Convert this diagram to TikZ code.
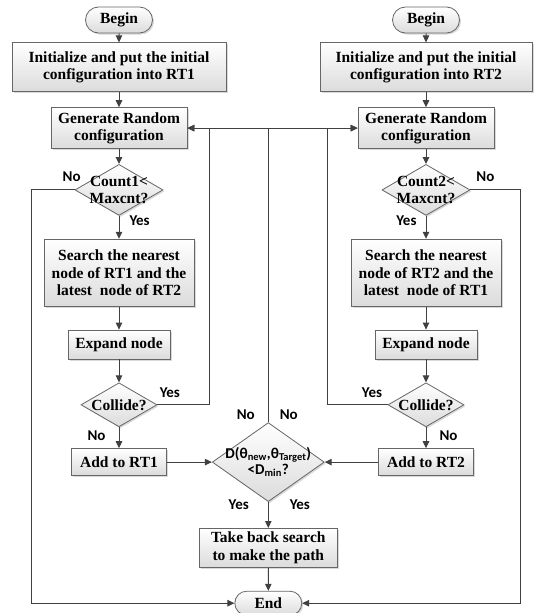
\documentclass[tikz,border=0pt]{standalone}
\usepackage{fontspec}
\setmainfont{Liberation Serif}
\newfontfamily\lblfont{Carlito}
\usetikzlibrary{positioning,shapes.geometric,shapes.misc,arrows.meta,shadows}

\tikzset{
  base/.style={draw=black!60, line width=0.8pt, top color=white, bottom color=black!14,
    drop shadow={opacity=0.3, shadow xshift=1.5pt, shadow yshift=-1.5pt}},
  process/.style={base, rectangle, inner xsep=4pt, inner ysep=2pt, align=center,
    font=\fontsize{15.5}{17.5}\selectfont\bfseries},
  decision/.style={base, diamond, inner sep=0pt},
  terminal/.style={base, rounded rectangle, minimum width=67pt, minimum height=26pt,
    inner sep=0pt, font=\fontsize{15.5}{17.5}\selectfont\bfseries},
  dtext/.style={font=\fontsize{15.5}{17.5}\selectfont\bfseries, align=center, inner sep=0pt},
  mtext/.style={font=\lblfont\fontsize{15}{16}\selectfont\bfseries, align=center, inner sep=0pt},
  lbl/.style={font=\lblfont\fontsize{15}{17}\selectfont\bfseries, inner sep=1pt},
  line/.style={draw=black!75, line width=1pt},
  arr/.style={line, -{Triangle[length=7pt,width=6.5pt]}},
}

\begin{document}
\begin{tikzpicture}[x=1pt, y=-1pt]
  \useasboundingbox (0,0) rectangle (534,613);

  % left tree
  \node[terminal]                                   (b1) at (119,20) {Begin};
  \node[process, below=9pt of b1, minimum width=214pt, minimum height=49pt] (i1)
        {Initialize and put the initial\\configuration into RT1};
  \node[process, below=15pt of i1, minimum width=136pt, minimum height=41pt] (g1)
        {Generate Random\\configuration};
  \node[decision, below=15pt of g1, minimum width=88pt, minimum height=51pt,
        label={[dtext]center:Count1<\\Maxcnt?}]    (c1) {};
  \node[process, below=23pt of c1, minimum width=150pt, minimum height=67pt] (s1)
        {Search the nearest\\node of RT1 and the\\latest\ \ node of RT2};
  \node[process, below=23pt of s1, minimum width=102pt, minimum height=29pt] (e1) {Expand node};
  \node[decision, below=23pt of e1, minimum width=76pt, minimum height=44pt,
        label={[dtext]center:Collide?}]             (k1) {};
  \node[process, below=21pt of k1, minimum width=95pt, minimum height=27pt] (a1) {Add to RT1};

  % right tree
  \node[terminal]                                   (b2) at (426,20) {Begin};
  \node[process, below=9pt of b2, minimum width=212pt, minimum height=49pt] (i2)
        {Initialize and put the initial\\configuration into RT2};
  \node[process, below=15pt of i2, minimum width=136pt, minimum height=41pt] (g2)
        {Generate Random\\configuration};
  \node[decision, below=15pt of g2, minimum width=88pt, minimum height=51pt,
        label={[dtext]center:Count2<\\Maxcnt?}]    (c2) {};
  \node[process, below=23pt of c2, minimum width=150pt, minimum height=67pt] (s2)
        {Search the nearest\\node of RT2 and the\\latest\ \ node of RT1};
  \node[process, below=23pt of s2, minimum width=102pt, minimum height=29pt] (e2) {Expand node};
  \node[decision, below=23pt of e2, minimum width=76pt, minimum height=44pt,
        label={[dtext]center:Collide?}]             (k2) {};
  \node[process, below=21pt of k2, minimum width=95pt, minimum height=27pt] (a2) {Add to RT2};

  % meeting point
  \node[decision, right=45pt of a1, minimum width=112pt, minimum height=79pt,
        label={[mtext]center:D(θ\textsubscript{new},θ\textsubscript{Target})\\<D\textsubscript{min}?}] (d) {};
  \node[process, below=26pt of d, minimum width=138pt, minimum height=39pt] (t)
        {Take back search\\to make the path};
  \node[terminal, below=23pt of t, minimum height=24pt] (end) {End};
  \coordinate (top) at (d.north |- g1.east);

  % left edges
  \draw[arr] (b1) -- (i1);
  \draw[arr] (i1) -- (g1);
  \draw[arr] (g1) -- (c1);
  \draw[arr] (c1) -- node[lbl, right=9pt, pos=0.2] (y1) {Yes} (s1);
  \draw[arr] (s1) -- (e1);
  \draw[arr] (e1) -- (k1);
  \draw[arr] (k1) -- node[lbl, left=12pt, pos=0.4] (n3) {No} (a1);
  \draw[arr] (a1) -- (d);
  \draw[arr] (k1.east) -| node[lbl, above=6pt, pos=0.12] (y3) {Yes} ([xshift=22pt]g1.east) -- (g1.east);
  \draw[arr] (c1.west) -- node[lbl, above=7pt, pos=0.07] (n1) {No} ++(-43,0) |- (end.west);

  % right edges
  \draw[arr] (b2) -- (i2);
  \draw[arr] (i2) -- (g2);
  \draw[arr] (g2) -- (c2);
  \draw[arr] (c2) -- node[lbl, left=8pt, pos=0.2] (y2) {Yes} (s2);
  \draw[arr] (s2) -- (e2);
  \draw[arr] (e2) -- (k2);
  \draw[arr] (k2) -- node[lbl, right=12pt, pos=0.4] (n4) {No} (a2);
  \draw[arr] (a2) -- (d);
  \draw[arr] (k2.west) -| node[lbl, above=6pt, pos=0.13] (y4) {Yes} ([xshift=-30pt]g2.west) -- (g2.west);
  \draw[arr] (c2.east) -- node[lbl, above=7pt, pos=0.3] (n2) {No} ++(50,0) |- (end.east);

  % middle
  \draw[arr] (d.north) -- node[lbl, left=12pt, pos=0.025] (n5) {No}
                          node[lbl, right=10pt, pos=0.025] (n6) {No} (top) -- (g1.east);
  \draw[arr] (top) -- (g2.west);
  \draw[arr] (d) -- node[lbl, left=18pt, pos=0.1] (y5) {Yes}
                    node[lbl, right=20pt, pos=0.1] (y6) {Yes} (t);
  \draw[arr] (t) -- (end);
\end{tikzpicture}
\end{document}
